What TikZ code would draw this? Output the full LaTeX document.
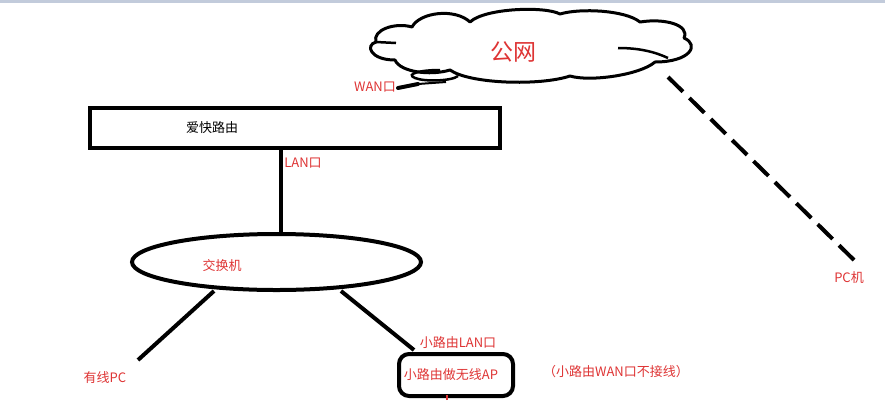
\documentclass[tikz,border=0pt]{standalone}
\usepackage{fontspec}
\setmainfont{Noto Sans CJK SC}
\usetikzlibrary{calc, shapes.geometric}

\definecolor{lblred}{RGB}{222,52,52}
\definecolor{topbar}{RGB}{194,203,219}

\tikzset{
    wire/.style={line width=4pt, black},
    redtxt/.style={text=lblred, font=\fontsize{13}{15}\selectfont, inner sep=0pt},
    blktxt/.style={text=black, font=\fontsize{13}{15}\selectfont, inner sep=0pt}
}

\begin{document}
\begin{tikzpicture}[x=1pt, y=-1pt]
    \useasboundingbox (0,0) rectangle (885,400);
    \fill[topbar] (0,0) rectangle (885,3);

    % cloud, drawn by hand
    \draw[line width=3pt, line join=round]
        (376,42) .. controls (372,30) and (395,22) .. (412,27)
        .. controls (420,12) and (455,8) .. (470,22)
        .. controls (485,8) and (545,6) .. (560,14)
        .. controls (580,8) and (625,10) .. (640,22)
        .. controls (665,18) and (690,25) .. (684,38)
        .. controls (700,45) and (690,62) .. (655,62)
        .. controls (640,75) and (590,82) .. (570,76)
        .. controls (540,86) and (470,84) .. (450,70)
        .. controls (430,76) and (400,72) .. (395,60)
        .. controls (370,60) and (365,45) .. cycle;
    \draw[line width=2.5pt] (376,42) -- (396,43);
    \draw[line width=2.5pt] (618,48) .. controls (640,48) and (655,52) .. (668,58);
    \node[inner sep=0pt] (wan) at (530,46) {};

    \node[draw, line width=4pt, minimum width=410, minimum height=40, inner sep=0pt] (router) at (295,128) {};
    \node[ellipse, draw, line width=4pt, minimum width=289, minimum height=56, inner sep=0pt] (switch) at (276.5,262) {};
    \node[draw, line width=4pt, rounded corners=10pt, minimum width=114, minimum height=42,
          inner sep=0pt, redtxt] (ap) at (456,375) {\hspace*{-10pt}小路由做无线AP};

    % free ends
    \coordinate (wanport) at (398,88);
    \coordinate (lantop) at (281,150);
    \coordinate (lanbot) at (281,233);
    \coordinate (pcend) at (138,360);
    \coordinate (swleft) at (214,291);
    \coordinate (swright) at (341,291);
    \coordinate (aptop) at (414,350);
    \coordinate (dashtop) at (668,77);
    \coordinate (dashend) at (856,262);

    % wan tail
    \draw[line width=2.5pt] (440,70) .. controls (420,70) and (405,74) .. (415,78)
        .. controls (425,82) and (452,81) .. (458,76);
    \draw[line width=4pt, line cap=round] (wanport) -- (418,84);
    \draw[line width=2pt] (418,84) -- (446,82);

    % connectors
    \draw[wire] (lantop) -- (lanbot);
    \draw[wire] (swleft) -- (pcend);
    \draw[wire] (swright) -- (aptop);
    \draw[wire, dash pattern=on 21pt off 9pt] (dashtop) -- (dashend);
    \draw[lblred, line width=2pt] (447,400) -- (447,395);

    % labels
    \node[lblred, inner sep=0pt, font=\fontsize{23}{26}\selectfont] (wantxt) at (513,52) {公网};
    \node[redtxt] (wanlbl) at (375,87) {WAN口};
    \node[blktxt] (routertxt) at (212,128) {爱快路由};
    \node[redtxt] (lanlbl) at (303,163) {LAN口};
    \node[redtxt] (switchtxt) at (222,266) {交换机};
    \node[redtxt] (pclbl) at (105,378) {有线PC};
    \node[redtxt] (aplanlbl) at (458,343) {小路由LAN口};
    \node[redtxt] (apnote) at (616,372) {（小路由WAN口不接线）};
    \node[redtxt] (pc2lbl) at (849,278) {PC机};
\end{tikzpicture}
\end{document}
